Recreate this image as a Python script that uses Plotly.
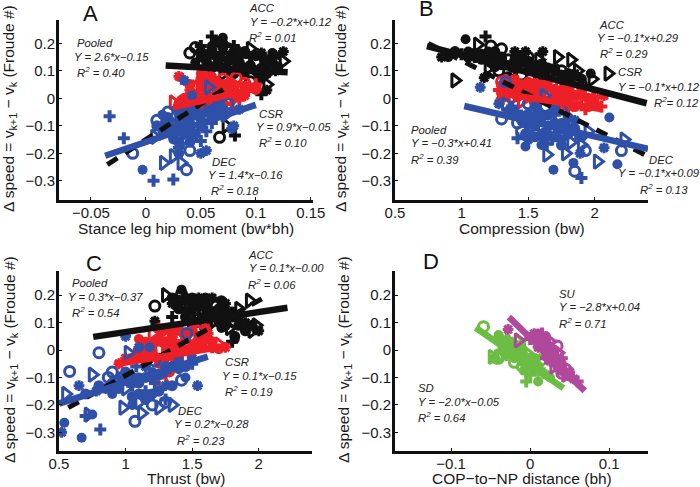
import plotly.graph_objects as go

W, H = 700, 487
BLACK, RED, BLUE, GREEN, MAGENTA = "#111111", "#ee2027", "#2f50a8", "#6dbd45", "#b0489c"
SYMBOLS = ["circle", "circle-open", "cross", "triangle-right-open", "asterisk-open"]
SIZES = [10, 10, 10, 12, 9]
WIDTHS = [0, 3, 0, 3, 3]

# Each row is [filled circle, open circle, cross, open triangle, asterisk]
A_ACC = [
 (0.07,0.22),(0.045,0.185),(0.06,0.225),(0.095,0.18),(0.125,0.17),
 (0.115,0.165),(0.04,0.165),(0.05,0.19),(0.125,0.135),(0.118,0.155),
 (0.06,0.19),(0.075,0.18),(0.07,0.165),(0.085,0.155),(0.065,0.205),
 (0.05,0.15),(0.09,0.14),(0.08,0.19),(0.06,0.14),(0.105,0.165),
 (0.055,0.16),(0.1,0.13),(0.095,0.15),(0.072,0.125),(0.11,0.12),
 (0.045,0.13),(0.08,0.11),(0.108,0.145),(0.06,0.11),(0.085,0.17),
 (0.09,0.09),(0.075,0.15),(0.1,0.095),(0.07,0.09),(0.118,0.1),
 (0.105,0.07),(0.095,0.06),(0.105,0.015),(0.11,0.05),(0.11,0.03),
 (0.083,0.12),(0.067,-0.142),(0.081,-0.135),(0.073,-0.1),(0.095,0.115)]
A_CSR = [
 (0.05,0.09),(0.07,0.07),(0.033,0.07),(0.06,0.07),(0.03,0.08),
 (0.06,0.08),(0.082,0.075),(0.05,0.06),(0.045,0.04),(0.07,0.05),
 (0.042,0.02),(0.05,0.02),(0.062,0.035),(0.025,-0.015),(0.055,0.045),
 (0.08,0.02),(0.06,0.0),(0.075,0.03),(0.08,0.05),(0.09,0.04),
 (0.1,0.03),(0.07,0.02),(0.1,0.05),(0.04,0.0),(0.065,0.015),
 (0.06,-0.02),(0.033,-0.01),(0.05,0.0),(0.07,-0.02),(0.09,0.01),
 (0.03,-0.03),(0.045,-0.02),(0.085,-0.005),(0.075,-0.035),(0.055,-0.04),
 (0.065,0.06),(0.09,0.055),(0.055,0.08),(0.08,0.0),(0.04,0.03)]
A_DEC = [
 (-0.003,-0.26),(-0.012,-0.2),(-0.033,-0.065),(0.016,-0.235),(0.035,0.065),
 (0.042,0.01),(0.037,-0.26),(0.007,-0.3),(0.032,-0.235),(0.08,-0.1),
 (0.03,-0.1),(0.02,-0.08),(0.025,-0.295),(0.057,0.04),(0.078,-0.11),
 (0.02,-0.1),(0.042,-0.14),(-0.02,-0.145),(0.008,-0.14),(0.05,-0.2),
 (0.03,-0.06),(0.01,-0.08),(0.04,-0.05),(0.015,-0.125),(0.065,-0.03),
 (0.05,-0.08),(0.03,-0.14),(0.03,-0.18),(0.045,-0.11),(0.035,-0.03),
 (0.06,-0.06),(0.02,-0.05),(0.055,-0.12),(0.072,-0.06),(0.025,-0.11),
 (0.04,-0.09),(0.05,-0.03),(0.06,-0.09),(0.035,-0.15),(0.085,-0.04),
 (0.025,-0.15),(0.04,-0.19),(0.04,-0.12),(0.025,-0.21),(0.045,-0.06),
 (0.015,-0.06),(0.075,-0.02),(0.05,-0.155),(0.065,-0.005),(0.055,-0.19)]

B_ACC = [
 (1.03,0.215),(1.22,0.19),(1.18,0.225),(0.95,0.065),(1.17,0.075),
 (0.9,0.15),(1.3,0.18),(1.0,0.16),(1.72,0.15),(1.61,0.17),
 (1.05,0.17),(1.35,0.14),(1.1,0.15),(1.82,0.14),(0.85,0.15),
 (1.2,0.17),(1.5,0.15),(1.25,0.16),(1.12,0.195),(1.4,0.17),
 (1.3,0.12),(1.62,0.11),(1.4,0.1),(2.1,0.09),(1.48,0.17),
 (1.25,0.13),(1.75,0.1),(1.5,0.12),(1.98,0.07),(1.6,0.1),
 (1.97,0.09),(1.45,0.085),(1.55,0.09),(1.87,0.1),(1.7,0.11),
 (1.35,0.08),(1.28,0.1),(1.65,0.08),(1.58,0.14),(1.8,0.07),
 (1.15,0.14),(1.9,0.05),(1.75,0.06),(1.2,0.11),(1.85,0.09)]
B_CSR = [
 (1.33,0.07),(1.3,0.06),(1.28,0.03),(1.3,0.0),(1.29,-0.01),
 (1.45,0.03),(1.5,0.01),(1.4,0.04),(1.38,0.0),(1.55,0.04),
 (1.6,0.05),(1.65,0.02),(1.7,0.03),(1.6,0.0),(1.75,0.02),
 (1.8,0.01),(1.85,0.04),(1.9,0.0),(1.95,0.02),(2.0,0.0),
 (1.7,-0.01),(1.75,0.05),(2.05,-0.03),(1.85,-0.02),(2.07,0.01),
 (1.5,0.06),(1.55,-0.01),(1.35,0.025),(1.45,-0.01),(1.65,0.06),
 (1.75,-0.02),(1.8,0.03),(1.93,-0.04),(1.6,0.03),(1.4,0.07),
 (1.9,0.035),(1.5,0.035),(1.8,-0.035),(1.7,0.0),(1.3,0.045)]
B_DEC = [
 (2.11,-0.07),(1.33,0.06),(1.64,-0.165),(1.64,-0.205),(1.14,0.04),
 (2.17,-0.24),(1.85,-0.265),(1.9,-0.29),(2.02,-0.23),(2.07,-0.18),
 (1.69,-0.26),(2.2,-0.19),(1.42,-0.145),(1.78,-0.2),(1.89,-0.2),
 (1.84,-0.235),(1.42,-0.09),(1.5,-0.12),(2.22,-0.15),(1.38,-0.06),
 (1.48,-0.175),(1.3,-0.075),(1.38,-0.03),(1.33,-0.02),(1.85,-0.08),
 (1.6,-0.17),(1.5,-0.02),(1.55,-0.07),(1.82,-0.16),(1.28,-0.02),
 (1.72,-0.12),(1.63,-0.03),(1.7,-0.06),(1.6,-0.1),(1.75,-0.15),
 (1.52,-0.09),(1.75,-0.04),(1.86,-0.13),(1.95,-0.12),(1.45,-0.06),
 (1.65,-0.13),(1.45,-0.12),(1.8,-0.1),(1.9,-0.17),(1.58,-0.05),
 (1.75,-0.09),(1.93,-0.19),(1.68,-0.15),(1.62,0.01),(1.5,-0.15)]

C_ACC = [
 (1.42,0.22),(1.22,0.16),(1.35,0.12),(1.3,0.2),(1.22,0.105),
 (1.82,0.04),(1.42,0.205),(1.8,0.03),(1.93,0.18),(1.9,0.1),
 (1.5,0.17),(1.82,0.1),(1.4,0.18),(1.98,0.09),(1.55,0.19),
 (1.6,0.15),(1.3,0.06),(1.45,0.14),(1.85,0.15),(1.65,0.19),
 (1.7,0.13),(1.58,0.11),(1.55,0.13),(1.65,0.1),(1.75,0.17),
 (1.38,0.16),(1.68,0.16),(1.75,0.12),(1.5,0.11),(2.0,0.07),
 (1.8,0.14),(1.6,0.08),(1.45,0.17),(1.78,0.08),(1.35,0.17),
 (1.72,0.08),(1.5,0.1),(1.62,0.13),(1.95,0.07),(1.85,0.12)]
C_CSR = [
 (1.15,0.03),(1.3,0.05),(1.1,0.0),(1.2,0.06),(1.25,0.08),
 (1.35,0.03),(1.25,0.0),(1.45,0.06),(1.55,0.07),(1.62,0.06),
 (1.5,0.02),(1.4,0.0),(1.6,0.03),(1.7,0.02),(1.75,0.01),
 (1.3,-0.03),(1.2,-0.02),(1.35,-0.06),(1.45,-0.03),(1.0,-0.03),
 (1.4,0.08),(1.55,0.03),(1.65,0.01),(1.3,0.0),(1.15,0.0),
 (1.25,-0.05),(1.28,-0.12),(1.38,0.01),(1.5,0.05),(1.6,0.08),
 (1.1,0.04),(1.45,0.02),(1.22,0.03),(1.4,0.04),(0.95,-0.05)]
C_DEC = [
 (0.54,-0.265),(0.58,-0.078),(0.81,-0.29),(0.72,-0.235),(0.52,-0.3),
 (0.67,-0.32),(0.8,-0.01),(0.7,-0.24),(0.55,-0.16),(1.0,0.05),
 (0.75,-0.235),(1.07,-0.26),(1.08,-0.06),(1.02,-0.01),(1.54,-0.13),
 (1.18,0.01),(1.46,0.06),(0.95,-0.1),(0.75,-0.09),(0.65,-0.13),
 (0.9,-0.16),(1.42,-0.11),(1.22,-0.12),(1.12,-0.23),(1.1,0.01),
 (1.05,-0.2),(1.2,-0.2),(1.3,-0.18),(0.98,-0.21),(1.4,-0.04),
 (1.2,-0.08),(0.87,-0.1),(1.3,-0.08),(1.0,-0.14),(1.5,-0.03),
 (1.1,-0.1),(1.3,-0.19),(1.15,-0.15),(1.25,-0.21),(1.3,-0.13),
 (1.4,-0.07),(1.22,-0.04),(1.05,-0.13),(1.35,-0.2),(1.15,-0.06),
 (1.45,-0.1),(0.9,-0.08),(1.5,-0.05),(1.1,-0.19),(0.78,-0.15)]

D_SD = [
 (-0.04,0.055),(-0.059,0.085),(-0.005,-0.115),(-0.048,-0.025),(-0.03,0.04),
 (0.01,-0.115),(-0.04,-0.03),(-0.02,0.0),(-0.04,-0.025),(-0.012,0.02),
 (-0.02,-0.03),(-0.01,-0.06),(-0.03,0.01),(-0.015,0.03),(0.0,-0.03),
 (-0.008,-0.075),(0.005,-0.05),(-0.035,-0.01),(-0.02,0.02),(0.01,-0.08),
 (0.0,-0.06),(-0.02,-0.045),(0.012,-0.07),(-0.005,-0.01),(0.02,-0.09),
 (0.025,-0.1),(-0.01,-0.02),(0.0,-0.09),(0.015,-0.04),(-0.03,-0.02)]
D_SU = [
 (0.01,0.06),(0.034,0.015),(0.0,0.04),(-0.015,0.035),(-0.028,0.075),
 (0.02,0.05),(0.015,0.025),(0.01,0.03),(0.025,0.03),(0.005,0.06),
 (0.03,-0.02),(0.02,0.0),(0.015,0.06),(0.02,-0.01),(0.01,0.01),
 (0.04,-0.05),(0.03,-0.03),(0.04,-0.03),(0.03,-0.06),(0.025,-0.04),
 (0.035,-0.065),(0.045,-0.07),(0.02,-0.03),(0.045,-0.09),(0.05,-0.08),
 (0.012,0.04),(0.04,-0.085),(0.06,-0.115),(0.035,-0.01),(0.055,-0.105)]

# Points in the solid middle of each cloud (filled marks)
A_ACC_CORE = [(0.05,0.17),(0.06,0.175),(0.07,0.185),(0.08,0.17),(0.09,0.17),(0.1,0.155),(0.11,0.14),(0.115,0.13),(0.065,0.15),(0.075,0.14),(0.085,0.13),(0.095,0.12),(0.105,0.11),(0.055,0.135),(0.065,0.125),(0.08,0.145),(0.09,0.11),(0.1,0.1),(0.105,0.085),(0.11,0.09),(0.08,0.09),(0.07,0.11),(0.06,0.16),(0.07,0.2),(0.12,0.115)]
A_CSR_CORE = [(0.04,0.05),(0.05,0.04),(0.06,0.05),(0.07,0.04),(0.08,0.035),(0.09,0.025),(0.1,0.04),(0.05,0.07),(0.06,0.06),(0.065,0.03),(0.045,0.01),(0.055,0.01),(0.07,0.005),(0.04,-0.015),(0.05,-0.02),(0.065,-0.01),(0.035,0.0),(0.08,0.01),(0.035,-0.025),(0.075,0.055),(0.09,0.045),(0.03,-0.02)]
A_DEC_CORE = [(0.02,-0.07),(0.03,-0.08),(0.04,-0.07),(0.05,-0.06),(0.06,-0.04),(0.07,-0.04),(0.02,-0.12),(0.03,-0.12),(0.04,-0.1),(0.05,-0.1),(0.06,-0.075),(0.025,-0.14),(0.035,-0.13),(0.045,-0.13),(0.03,-0.16),(0.04,-0.16),(0.01,-0.1),(0.035,-0.09),(0.055,-0.05),(0.015,-0.11),(0.03,-0.04),(0.045,-0.04),(0.03,-0.2),(0.065,-0.06)]
B_ACC_CORE = [(0.95,0.17),(1.05,0.15),(1.15,0.16),(1.25,0.17),(1.2,0.15),(1.3,0.15),(1.4,0.14),(1.45,0.13),(1.35,0.12),(1.25,0.115),(1.5,0.135),(1.55,0.12),(1.6,0.125),(1.7,0.1),(1.8,0.09),(1.65,0.11),(1.75,0.085),(1.4,0.12),(1.3,0.14),(1.1,0.165),(1.22,0.13),(1.5,0.1),(1.6,0.085),(1.9,0.07),(1.85,0.06),(1.45,0.155)]
B_CSR_CORE = [(1.35,0.05),(1.4,0.02),(1.45,0.05),(1.5,0.03),(1.55,0.02),(1.6,0.02),(1.65,0.04),(1.7,0.015),(1.75,0.03),(1.8,-0.01),(1.85,0.01),(1.9,0.02),(1.95,0.0),(2.0,-0.02),(1.65,-0.01),(1.75,0.0),(1.3,0.02),(1.55,0.055),(1.85,-0.03),(1.95,-0.03),(1.42,0.005),(1.8,0.045)]
B_DEC_CORE = [(1.45,-0.08),(1.5,-0.06),(1.55,-0.1),(1.6,-0.07),(1.65,-0.06),(1.7,-0.09),(1.75,-0.11),(1.8,-0.13),(1.85,-0.11),(1.65,-0.1),(1.6,-0.13),(1.55,-0.14),(1.5,-0.09),(1.7,-0.14),(1.4,-0.05),(1.8,-0.07),(1.48,-0.13),(1.62,-0.15),(1.75,-0.17),(1.9,-0.14),(1.55,-0.03),(1.35,-0.05),(1.7,-0.04)]
C_ACC_CORE = [(1.35,0.19),(1.45,0.19),(1.5,0.15),(1.55,0.16),(1.6,0.17),(1.65,0.14),(1.7,0.15),(1.75,0.14),(1.8,0.12),(1.6,0.12),(1.7,0.105),(1.75,0.09),(1.55,0.1),(1.45,0.12),(1.65,0.12),(1.85,0.09),(1.9,0.07),(1.4,0.15),(1.5,0.19),(1.6,0.19),(1.72,0.18),(1.95,0.09),(1.62,0.09),(1.82,0.05)]
C_CSR_CORE = [(1.2,0.02),(1.25,0.04),(1.3,0.03),(1.35,0.05),(1.4,0.02),(1.45,0.04),(1.5,0.07),(1.55,0.05),(1.6,0.05),(1.65,0.03),(1.2,0.0),(1.3,0.02),(1.4,-0.01),(1.25,-0.03),(1.35,-0.02),(1.15,-0.02),(1.45,0.0),(1.55,0.015),(1.28,0.07),(1.1,-0.02),(1.05,-0.03),(1.7,0.005),(1.33,-0.08),(1.35,0.065)]
C_DEC_CORE = [(0.8,-0.13),(0.9,-0.12),(0.95,-0.14),(1.0,-0.1),(1.05,-0.1),(1.1,-0.12),(1.15,-0.1),(1.2,-0.1),(1.25,-0.09),(1.3,-0.06),(1.35,-0.06),(1.4,-0.05),(1.45,-0.06),(1.1,-0.16),(1.2,-0.16),(1.25,-0.15),(1.15,-0.18),(0.7,-0.16),(0.85,-0.14),(1.05,-0.17),(1.35,-0.13),(1.0,-0.08)]
D_SD_CORE = [(-0.035,0.03),(-0.025,0.025),(-0.025,0.0),(-0.015,0.01),(-0.015,-0.02),(-0.005,-0.03),(-0.01,-0.04),(0.005,-0.07),(-0.005,-0.06),(0.01,-0.06),(-0.03,-0.01),(-0.035,0.0),(-0.01,0.0),(-0.02,-0.01),(0.0,-0.045),(-0.045,-0.03),(0.005,-0.03)]
D_SU_CORE = [(0.01,0.05),(0.015,0.04),(0.02,0.02),(0.025,0.01),(0.015,0.01),(0.03,0.0),(0.025,-0.02),(0.03,-0.045),(0.035,-0.04),(0.035,-0.055),(0.04,-0.065),(0.02,0.03),(0.01,0.045),(0.04,-0.075),(0.05,-0.095),(0.03,-0.01),(0.005,0.04)]

# Regression lines: end points
A_FITS = {"pooled": ([-0.035, 0.0715], [-0.241, 0.035]), "acc": ([0.018, 0.129], [0.119, 0.095]),
          "csr": ([0.025, 0.105], [-0.033, 0.04]), "dec": ([-0.037, 0.1], [-0.209, -0.024])}
B_FITS = {"pooled": ([0.75, 2.38], [0.2, -0.206]), "acc": ([0.74, 2.39], [0.19, -0.018]),
          "csr": ([1.27, 2.06], [0.02, -0.04]), "dec": ([1.02, 2.4], [-0.028, -0.184])}
C_FITS = {"pooled": ([0.57, 2.05], [-0.21, 0.194]), "acc": ([0.757, 2.216], [0.048, 0.154]),
          "csr": ([0.92, 1.77], [-0.052, 0.015]), "dec": ([0.5, 1.617], [-0.195, -0.024])}
D_FITS = {"sd": ([-0.069, 0.042], [0.081, -0.139]), "su": ([-0.027, 0.069], [0.12, -0.149])}

Y_TICKS = [-0.3, -0.2, -0.1, 0, 0.2, 0.1]
A_XTICKS = [-0.05, 0, 0.05, 0.1, 0.15]
BC_XTICKS = [0.5, 1, 1.5, 2]
D_XTICKS = [-0.1, 0, 0.1]
Y_TITLE = "\u0394 speed = v<sub>k+1</sub> \u2212 v<sub>k</sub> (Froude #)"

# (axis suffix, x title, x ticks, x range, plot box px (l, r, t, b), y range, clusters, fits)
PANELS = [
 ("", "Stance leg hip moment (bw*bh)", A_XTICKS, [-0.079, 0.152], (59, 313, 20, 200), [-0.37, 0.285],
  [(A_ACC_CORE, A_ACC, BLACK), (A_CSR_CORE, A_CSR, RED), (A_DEC_CORE, A_DEC, BLUE)], A_FITS),
 ("2", "Compression (bw)", BC_XTICKS, [0.5, 2.4], (395, 648, 20, 200), [-0.37, 0.285],
  [(B_ACC_CORE, B_ACC, BLACK), (B_CSR_CORE, B_CSR, RED), (B_DEC_CORE, B_DEC, BLUE)], B_FITS),
 ("3", "Thrust (bw)", BC_XTICKS, [0.5, 2.4], (59, 312, 271, 451), [-0.368, 0.288],
  [(C_ACC_CORE, C_ACC, BLACK), (C_CSR_CORE, C_CSR, RED), (C_DEC_CORE, C_DEC, BLUE)], C_FITS),
 ("4", "COP\u2212to\u2212NP distance (bh)", D_XTICKS, [-0.171, 0.149], (395, 648, 271, 451), [-0.368, 0.288],
  [(D_SD_CORE, D_SD, GREEN), (D_SU_CORE, D_SU, MAGENTA)], D_FITS),
]

LABELS = [
 ("Pooled",77,43),("Y = 2.6*x\u22120.15",74,57),("R<sup>2</sup> = 0.40",77,72),
 ("ACC",249,8),("Y = \u22120.2*x+0.12",250,22),("R<sup>2</sup> = 0.01",249,37),
 ("CSR",259,114),("Y = 0.9*x\u22120.05",256,127),("R<sup>2</sup> = 0.10",259,142),
 ("DEC",212,162),("Y = 1.4*x\u22120.16",208,175),("R<sup>2</sup> = 0.18",211,190),
 ("ACC",599,25),("Y = \u22120.1*x+0.29",597,38),("R<sup>2</sup> = 0.29",600,53),
 ("CSR",618,72),("Y = \u22120.1*x+0.12",618,87),("R<sup>2</sup>= 0.12",654,102),
 ("Pooled",411,130),("Y = \u22120.3*x+0.41",411,143),("R<sup>2</sup> = 0.39",411,159),
 ("DEC",649,160),("Y = \u22120.1*x+0.09",618,173),("R<sup>2</sup> = 0.13",640,189),
 ("Pooled",72,283),("Y = 0.3*x\u22120.37",68,297),("R<sup>2</sup> = 0.54",72,312),
 ("ACC",248,255),("Y = 0.1*x\u22120.00",249,268),("R<sup>2</sup> = 0.06",248,284),
 ("CSR",225,362),("Y = 0.1*x\u22120.15",222,376),("R<sup>2</sup> = 0.19",225,391),
 ("DEC",178,411),("Y = 0.2*x\u22120.28",174,424),("R<sup>2</sup> = 0.23",177,440),
 ("SU",559,294),("Y = \u22122.8*x+0.04",559,307),("R<sup>2</sup> = 0.71",559,323),
 ("SD",418,388),("Y = \u22122.0*x\u22120.05",418,402),("R<sup>2</sup> = 0.64",418,417),
]
LETTERS = [("A",83,13),("B",419,9),("C",86,263),("D",423,261)]
X_TITLE_Y = {"": 228, "2": 228, "3": 478, "4": 478}
Y_TITLE_X = {"": 10, "2": 342, "3": 10, "4": 344}

FONT = "Liberation Sans, Arial, sans-serif"
FIT_COLORS = {"acc": BLACK, "csr": RED, "dec": BLUE, "sd": GREEN, "su": MAGENTA}

fig = go.Figure()
layout = dict(width=W, height=H, margin=dict(l=0, r=0, t=0, b=0, autoexpand=False), showlegend=False,
              paper_bgcolor="white", plot_bgcolor="white", font=dict(family=FONT, color="#1a1a1a"))
anns = []
for suf, xtitle, xticks, xr, box, yr, clusters, fits in PANELS:
    l, r, t, b = box
    ax = dict(showgrid=False, zeroline=False, showline=True, linecolor="#111111", linewidth=3,
              ticks="inside", ticklen=3, tickwidth=1, tickcolor="#111111", automargin=False,
              tickfont=dict(size=15, family=FONT))
    layout["xaxis" + suf] = dict(ax, domain=[l / W, r / W], range=xr, anchor="y" + suf, ticklabelstandoff=-3,
                                 tickvals=xticks, ticktext=[str(v).replace("-", "\u2212") for v in xticks])
    layout["yaxis" + suf] = dict(ax, domain=[1 - b / H, 1 - t / H], range=yr, anchor="x" + suf, ticklabelstandoff=-2,
                                 tickvals=Y_TICKS, ticktext=[str(v).replace("-", "\u2212") for v in Y_TICKS])
    anns.append(dict(text=xtitle, x=(l + r) / 2 / W, y=1 - X_TITLE_Y[suf] / H, xref="paper", yref="paper",
                     xanchor="center", yanchor="middle", showarrow=False, font=dict(size=15.5, family=FONT)))
    anns.append(dict(text=Y_TITLE, x=Y_TITLE_X[suf] / W, y=1 - ((t + b) / 2 - 1) / H, xref="paper", yref="paper",
                     xanchor="center", yanchor="middle", textangle=-90, showarrow=False, font=dict(size=15.5, family=FONT)))
    for core, pts, col in clusters:
        fig.add_trace(go.Scatter(
            x=[p[0] for p in core], y=[p[1] for p in core], mode="markers", cliponaxis=False,
            xaxis="x" + suf, yaxis="y" + suf,
            marker=dict(symbol="circle", size=11, color=col, opacity=1, line=dict(width=0))))
        idx = [i % 5 for i in range(len(pts))]
        fig.add_trace(go.Scatter(
            x=[p[0] for p in pts], y=[p[1] for p in pts], mode="markers", cliponaxis=False,
            xaxis="x" + suf, yaxis="y" + suf,
            marker=dict(symbol=[SYMBOLS[k] for k in idx], size=[SIZES[k] for k in idx], color=col, opacity=1,
                        line=dict(color=col, width=[WIDTHS[k] for k in idx]))))
    if "pooled" in fits:
        fig.add_trace(go.Scatter(x=fits["pooled"][0], y=fits["pooled"][1], mode="lines", xaxis="x" + suf, yaxis="y" + suf,
                                 cliponaxis=False, line=dict(color="#111111", width=5, dash="12px,9px")))
    for name, (fx, fy) in fits.items():
        if name != "pooled":
            fig.add_trace(go.Scatter(x=fx, y=fy, mode="lines", xaxis="x" + suf, yaxis="y" + suf,
                                     cliponaxis=False, line=dict(color=FIT_COLORS[name], width=6.5)))

for text, px, py in LABELS:
    anns.append(dict(text="<i>%s</i>" % text, x=(px - 2) / W, y=1 - py / H, xref="paper", yref="paper",
                     xanchor="left", yanchor="middle", showarrow=False,
                     font=dict(size=11.3, family=FONT, color="#222222")))
for text, px, py in LETTERS:
    anns.append(dict(text=text, x=(px - 2) / W, y=1 - py / H, xref="paper", yref="paper",
                     xanchor="left", yanchor="middle", showarrow=False,
                     font=dict(size=22, family=FONT, color="#111111")))
layout["annotations"] = anns
fig.update_layout(**layout)
fig.write_html("out.html", config={"displayModeBar": False},
               post_script="document.body.style.margin='0';document.body.style.overflow='hidden';")
